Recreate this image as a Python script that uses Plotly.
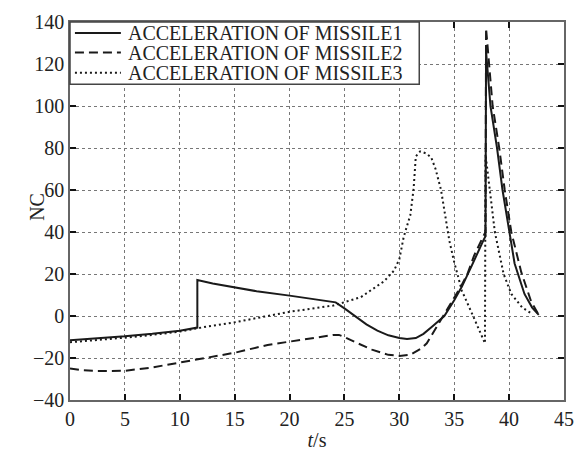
import plotly.graph_objects as go

# ---- data ----
t1 = [0, 2.5, 5, 7.5, 10, 11.6, 11.6, 13, 15, 17, 20, 22, 24.2, 25, 26, 27, 28, 29, 30, 30.7,
      31.5, 32.2, 33, 34.1, 35, 35.7, 36.6, 37.1, 37.7, 37.85, 37.9, 38.3, 38.9, 39.4, 39.8,
      40.5, 41.4, 42.1, 42.7]
y1 = [-11.5, -10.7, -9.7, -8.5, -7, -5.5, 17.1, 15.5, 13.8, 11.8, 9.7, 8.3, 6.5, 3.6, 0, -4.0,
      -7.0, -9.2, -10.5, -11, -10.5, -8.5, -5, 0, 7.5, 14, 24, 30, 36.5, 38, 126, 100, 80, 60,
      47, 25, 10.5, 4, 0.5]

t2 = [0, 1, 2.5, 4, 5, 7.5, 10, 12.5, 15, 18, 20, 22, 24, 24.5, 25, 26, 27.5, 29, 30, 31, 32,
      32.5, 33.2, 33.9, 34.7, 35.6, 36.2, 36.8, 37.7, 37.85, 37.9, 38.5, 39.1, 39.6, 40.2,
      41.1, 42, 42.7]
y2 = [-25, -25.8, -26.2, -26.3, -26.1, -24.5, -22.2, -20, -17.5, -13.8, -12.3, -10.8, -9, -9,
      -10, -12.5, -16, -18.5, -19, -18.5, -15.5, -13, -7, -1, 6, 14, 20, 28.6, 38.5, 40, 137,
      100, 80, 60, 40, 21, 7, 0.5]

t3 = [0, 2.5, 5, 7.5, 10, 12.5, 15, 18, 20, 22, 24, 26.5, 28.6, 29.5, 30, 30.4, 31, 31.3,
      31.5, 31.9, 32.4, 32.9, 33.3, 33.8, 34.2, 34.55, 35, 35.7, 36.6, 37.4, 37.8, 37.85,
      38.4, 38.7, 39.5, 40.2, 41.2, 42.1]
y3 = [-12.5, -11.5, -10.3, -9, -7.4, -5, -3, 0, 2, 3.5, 5, 9, 16.5, 21.5, 27, 37.7, 48, 60.5,
      76, 78.4, 77.5, 75.6, 70, 60, 48, 36, 25.6, 12, 1.4, -7.7, -13, 77, 53, 40, 20, 10.5,
      4, 1]

names = ["ACCELERATION OF MISSILE1", "ACCELERATION OF MISSILE2", "ACCELERATION OF MISSILE3"]
dashes = ["solid", "9px,5px", "2px,3px"]

FONT = "Liberation Serif"
LINE_COLOR = "#1a1a1a"

fig = go.Figure()
for t, y, name, dash in zip([t1, t2, t3], [y1, y2, y3], names, dashes):
    fig.add_trace(go.Scatter(x=t, y=y, mode="lines", name=name,
                             line=dict(color=LINE_COLOR, width=2, dash=dash)))

axis_common = dict(
    showline=True, linecolor="#666666", linewidth=1.5, mirror="ticks",
    ticks="inside", ticklen=6, tickwidth=2, tickcolor="#111111",
    showgrid=True, gridcolor="#777777", gridwidth=1, griddash="dot",
    zeroline=False, tickfont=dict(family=FONT, size=20, color="#222222"),
)

fig.update_xaxes(range=[0, 45], dtick=5, tick0=0, **axis_common,
                 title=dict(text="<i>t</i>/s", font=dict(family=FONT, size=20, color="#222222"),
                            standoff=4))
fig.update_yaxes(range=[-40, 140], dtick=20, tick0=0, **axis_common)

# manual legend (box, line samples, labels)
shapes = [dict(type="rect", xref="paper", yref="paper", x0=0, x1=0.707, y0=0.835, y1=1.0,
               line=dict(color="#444444", width=1.5), fillcolor="white", layer="above")]
rows_y = [0.971, 0.919, 0.866]
for ry, dash in zip(rows_y, dashes):
    shapes.append(dict(type="line", xref="paper", yref="paper", x0=0.01, x1=0.103, y0=ry, y1=ry,
                       line=dict(color=LINE_COLOR, width=2, dash=dash), layer="above"))
annotations = []
for ry, name in zip(rows_y, names):
    annotations.append(dict(xref="paper", yref="paper", x=0.113, y=ry, text=name,
                            showarrow=False, xanchor="left", yanchor="middle",
                            font=dict(family=FONT, size=20, color="#222222")))
annotations.append(dict(xref="paper", yref="paper", x=-0.066, y=0.512, text="NC", textangle=-90,
                        showarrow=False, xanchor="center", yanchor="middle",
                        font=dict(family=FONT, size=20, color="#222222")))

fig.update_layout(
    width=585, height=459,
    margin=dict(l=70, r=11, t=12, b=51),
    plot_bgcolor="white", paper_bgcolor="white",
    showlegend=False,
    shapes=shapes, annotations=annotations,
)

fig.write_html("out.html")
